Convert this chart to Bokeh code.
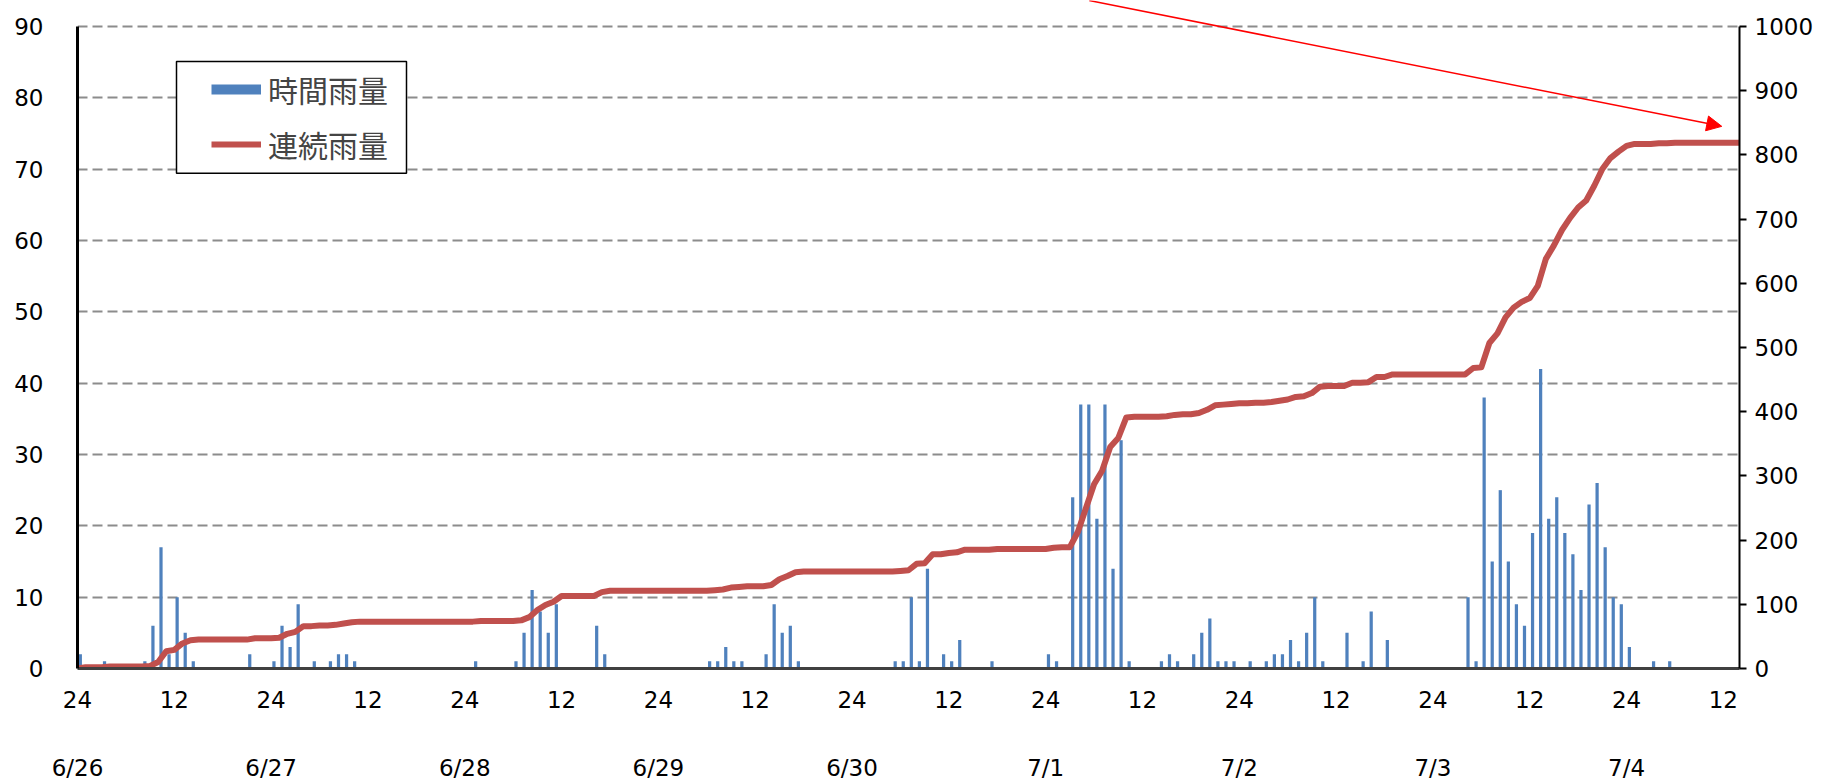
from bokeh.plotting import figure
from bokeh.models import (Range1d, LinearAxis, FixedTicker, SingleIntervalTicker,
                          Legend, LegendItem, Arrow, NormalHead, ColumnDataSource,
                          BoxAnnotation)
from bokeh.embed import file_html
from bokeh.resources import INLINE

# ---- data: hourly rainfall (mm), hour 0 = 6/26 00:00 -------------------------
rain_0626 = [2, 0, 0, 1, 0, 0, 0, 0, 1, 6, 17, 2, 10, 5, 1, 0, 0, 0, 0, 0, 0, 2, 0, 0]
rain_0627 = [1, 6, 3, 9, 0, 1, 0, 1, 2, 2, 1, 0, 0, 0, 0, 0, 0, 0, 0, 0, 0, 0, 0, 0]
rain_0628 = [0, 1, 0, 0, 0, 0, 1, 5, 11, 8, 5, 9, 0, 0, 0, 0, 6, 2, 0, 0, 0, 0, 0, 0]
rain_0629 = [0, 0, 0, 0, 0, 0, 1, 1, 3, 1, 1, 0, 0, 2, 9, 5, 6, 1, 0, 0, 0, 0, 0, 0]
rain_0630 = [0, 0, 0, 0, 0, 1, 1, 10, 1, 14, 0, 2, 1, 4, 0, 0, 0, 1, 0, 0, 0, 0, 0, 0]
rain_0701 = [2, 1, 0, 24, 37, 37, 21, 37, 14, 32, 1, 0, 0, 0, 1, 2, 1, 0, 2, 5, 7, 1, 1, 1]
rain_0702 = [0, 1, 0, 1, 2, 2, 4, 1, 5, 10, 1, 0, 0, 5, 0, 1, 8, 0, 4, 0, 0, 0, 0, 0]
rain_0703 = [0, 0, 0, 0, 10, 1, 38, 15, 25, 15, 9, 6, 19, 42, 21, 24, 19, 16, 11, 23, 26, 17, 10, 9]
rain_0704 = [3, 0, 0, 1, 0, 1, 0, 0, 0, 0, 0, 0, 0, 0]

hour_tick_labels = ["24", "12"]
date_labels = ["6/26", "6/27", "6/28", "6/29", "6/30", "7/1", "7/2", "7/3", "7/4"]
legend_labels = ["時間雨量", "連続雨量"]

hourly = (rain_0626 + rain_0627 + rain_0628 + rain_0629 + rain_0630 +
          rain_0701 + rain_0702 + rain_0703 + rain_0704)
n = len(hourly)

# continuous rainfall = running total of the hourly values
cum = [0]
for r in hourly:
    cum.append(cum[-1] + r)

bar_src = ColumnDataSource(dict(x=[i + 0.35 for i in range(n)], rain=hourly))
line_src = ColumnDataSource(dict(x=list(range(n + 1)), cum=cum))

BLUE = "#4F81BD"
RED = "#C0504D"
FONT = "DejaVu Sans"

LEFT_MAX, RIGHT_MAX = 90, 1000
# the frame reaches the top of the canvas so the pointer arrow can start there;
# the axes themselves are bounded to 0-90 / 0-1000
y_top = LEFT_MAX + 26 * LEFT_MAX / 643

p = figure(width=1836, height=783, x_range=Range1d(0, n), y_range=Range1d(0, y_top),
           output_backend="svg", toolbar_location=None,
           min_border_left=77, min_border_right=97, min_border_top=0, min_border_bottom=114)
p.extra_y_ranges = {"right": Range1d(0, y_top * RIGHT_MAX / LEFT_MAX)}
p.outline_line_color = None
p.background_fill_color = "white"

bars = p.vbar(x="x", top="rain", width=0.4, source=bar_src, fill_color=BLUE, line_color=None)
line = p.line(x="x", y="cum", source=line_src, y_range_name="right",
              line_color=RED, line_width=6, line_join="round")
legend_proxy = p.line(x=[float("nan")], y=[float("nan")], line_color=BLUE,
                      line_width=10, line_cap="butt")

# grid
p.xgrid.visible = False
p.ygrid.ticker = SingleIntervalTicker(interval=10)
p.ygrid.grid_line_color = "#8c8c8c"
p.ygrid.grid_line_width = 2
p.ygrid.grid_line_dash = "10 5"

# left axis
la = p.yaxis[0]
la.ticker = SingleIntervalTicker(interval=10)
la.bounds = (0, LEFT_MAX)
la.axis_line_color = "black"
la.axis_line_width = 3
la.major_tick_out = 0
la.major_tick_in = 0
la.minor_tick_line_color = None
la.major_label_standoff = 30
la.major_label_text_font = FONT
la.major_label_text_font_size = "23px"
la.major_label_text_color = "black"

# right axis
ra = LinearAxis(y_range_name="right", ticker=SingleIntervalTicker(interval=100))
ra.bounds = (0, RIGHT_MAX)
ra.axis_line_color = "black"
ra.axis_line_width = 2
ra.major_tick_out = 7
ra.major_tick_in = 0
ra.major_tick_line_width = 2
ra.minor_tick_line_color = None
ra.major_label_standoff = 8
ra.major_label_text_font = FONT
ra.major_label_text_font_size = "23px"
ra.major_label_text_color = "black"
p.add_layout(ra, "right")

# bottom axis (hours)
hour_ticks = list(range(0, n, 12))
xa = p.xaxis[0]
xa.ticker = FixedTicker(ticks=hour_ticks)
xa.major_label_overrides = {t: hour_tick_labels[(t // 12) % 2] for t in hour_ticks}
xa.axis_line_color = "#404040"
xa.axis_line_width = 3
xa.major_tick_out = 0
xa.major_tick_in = 0
xa.minor_tick_line_color = None
xa.major_label_standoff = 22
xa.major_label_text_font = FONT
xa.major_label_text_font_size = "23px"
xa.major_label_text_color = "black"

# date row
date_ticks = [24 * k for k in range(len(date_labels))]
da = LinearAxis(ticker=FixedTicker(ticks=date_ticks))
da.major_label_overrides = {t: lab for t, lab in zip(date_ticks, date_labels)}
da.axis_line_color = None
da.major_tick_line_color = None
da.minor_tick_line_color = None
da.major_label_standoff = 38
da.major_label_text_font = FONT
da.major_label_text_font_size = "23px"
da.major_label_text_color = "black"
p.add_layout(da, "below")

# legend frame (white box with black border) drawn behind the legend entries
px_per_hour = 1662 / n
px_per_unit = 669 / y_top
p.add_layout(BoxAnnotation(left=(176 - 77) / px_per_hour, right=(406 - 77) / px_per_hour,
                           top=(669 - 61) / px_per_unit, bottom=(669 - 173) / px_per_unit,
                           fill_color="white", fill_alpha=1,
                           line_color="black", line_width=1.5, line_alpha=1))

legend = Legend(items=[LegendItem(label=legend_labels[0], renderers=[legend_proxy]),
                       LegendItem(label=legend_labels[1], renderers=[line])],
                location=(134, 502))
legend.border_line_color = None
legend.background_fill_alpha = 0
legend.padding = 9
legend.spacing = 11
legend.margin = 0
legend.glyph_width = 50
legend.glyph_height = 30
legend.label_height = 30
legend.label_width = 120
legend.label_standoff = 7
legend.label_text_font = "Noto Sans CJK JP"
legend.label_text_font_size = "30px"
p.add_layout(legend, "center")

# pointer arrow (starts at the top edge of the picture)
p.add_layout(Arrow(x_start=125.4, y_start=y_top, x_end=203.8, y_end=76.0,
                   line_color="red", line_width=1.5,
                   end=NormalHead(size=15, fill_color="red", line_color="red")))

open("out.html", "w").write(file_html(p, INLINE))
